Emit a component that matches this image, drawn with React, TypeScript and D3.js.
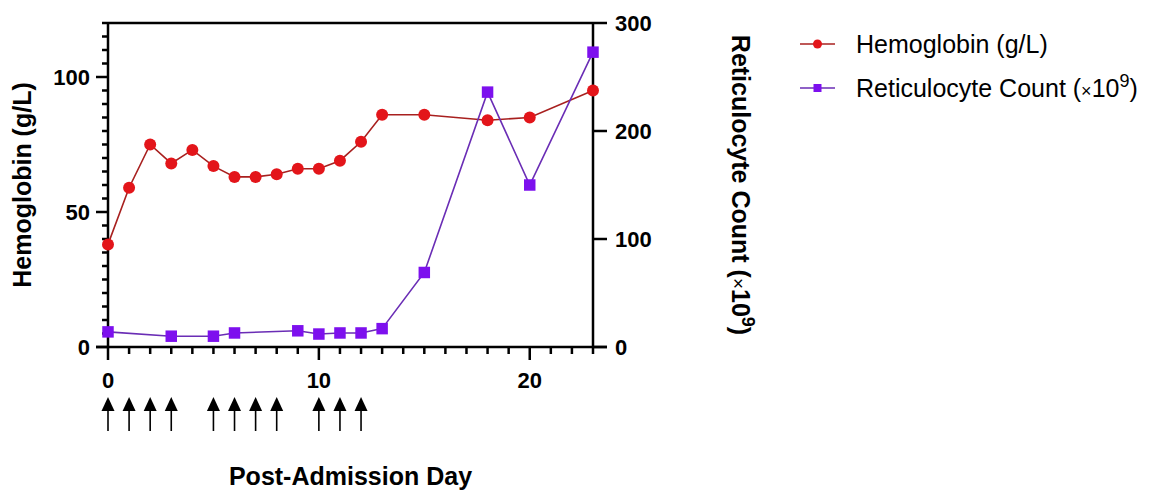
import React from 'react';
import * as d3 from 'd3';

// hemoglobin (g/L), left axis
const hbDays = [0, 1, 2, 3, 4, 5, 6, 7, 8, 9, 10, 11, 12, 13, 15, 18, 20, 23];
const hbValues = [38, 59, 75, 68, 73, 67, 63, 63, 64, 66, 66, 69, 76, 86, 86, 84, 85, 95];

// reticulocyte count (x10^9), right axis
const retDays = [0, 3, 5, 6, 9, 10, 11, 12, 13, 15, 18, 20, 23];
const retValues = [14, 10, 10, 13, 15, 12, 13, 13, 17, 69, 236, 150, 273];

// treatment days marked with arrows under the x axis
const arrowDays = [0, 1, 2, 3, 5, 6, 7, 8, 10, 11, 12];

const xTickLabels = [0, 10, 20];
const leftTickLabels = [0, 50, 100];
const rightTickLabels = [0, 100, 200, 300];

const FONT = "Arial, 'Liberation Sans', Helvetica, sans-serif";
const RED = '#e3151a';
const RED_LINE = '#a8201f';
const PURPLE = '#7d10ee';
const PURPLE_LINE = '#6a2db5';

const App = () => {
    const width = 1156, height = 492;
    const left = 108, right = 593, top = 23, bottom = 347;

    const x = d3.scaleLinear().domain([0, 23]).range([left, right]);
    const yL = d3.scaleLinear().domain([0, 120]).range([bottom, top]);
    const yR = d3.scaleLinear().domain([0, 300]).range([bottom, top]);

    const hbData = hbDays.map((d, i) => [d, hbValues[i]] as [number, number]);
    const retData = retDays.map((d, i) => [d, retValues[i]] as [number, number]);

    const hbLine = d3.line<[number, number]>().x(d => x(d[0])).y(d => yL(d[1]));
    const retLine = d3.line<[number, number]>().x(d => x(d[0])).y(d => yR(d[1]));
    const square = d3.symbol().type(d3.symbolSquare).size(132);
    const legendSquare = d3.symbol().type(d3.symbolSquare).size(64);

    const xMinor = d3.range(0, 24, 1);
    const yMinor = d3.range(0, 121, 5);

    return (
        <svg width={width} height={height} style={{ position: 'absolute', left: 0, top: 0, background: '#fff' }}
            fontFamily={FONT}>
            {/* frame */}
            <line x1={left} x2={right} y1={top} y2={top} stroke="#000" strokeWidth={2.5} />
            <line x1={left} x2={left} y1={top} y2={bottom} stroke="#000" strokeWidth={2.5} />
            <line x1={right} x2={right} y1={top} y2={bottom} stroke="#000" strokeWidth={2.5} />
            <line x1={left - 12} x2={right + 14} y1={bottom} y2={bottom} stroke="#000" strokeWidth={2.5} />

            {/* left axis ticks */}
            {yMinor.map(v => (
                <line key={'yl' + v} x1={left} x2={left - (v % 50 === 0 ? 12 : 6)} y1={yL(v)} y2={yL(v)}
                    stroke="#000" strokeWidth={2.5} />
            ))}
            {leftTickLabels.map(v => (
                <text key={'yll' + v} x={left - 18} y={yL(v)} dy="0.36em" textAnchor="end"
                    fontSize={22} fontWeight="bold">{v}</text>
            ))}

            {/* right axis ticks */}
            {rightTickLabels.map(v => (
                <g key={'yr' + v}>
                    <line x1={right} x2={right + 14} y1={yR(v)} y2={yR(v)} stroke="#000" strokeWidth={2.5} />
                    <text x={right + 22} y={yR(v)} dy="0.36em" fontSize={22} fontWeight="bold">{v}</text>
                </g>
            ))}

            {/* x axis ticks */}
            {xMinor.map(v => (
                <line key={'x' + v} x1={x(v)} x2={x(v)} y1={bottom} y2={bottom + (v % 10 === 0 ? 13 : 7)}
                    stroke="#000" strokeWidth={2.5} />
            ))}
            {xTickLabels.map(v => (
                <text key={'xl' + v} x={x(v)} y={388} textAnchor="middle" fontSize={22} fontWeight="bold">{v}</text>
            ))}

            {/* arrows */}
            {arrowDays.map(d => (
                <g key={'a' + d}>
                    <line x1={x(d)} x2={x(d)} y1={405} y2={431} stroke="#000" strokeWidth={1.6} />
                    <path d={`M${x(d)},397 L${x(d) - 6.5},411 L${x(d) + 6.5},411 Z`} fill="#000" />
                </g>
            ))}

            {/* axis titles */}
            <text transform={`translate(31,${(top + bottom) / 2}) rotate(-90)`} textAnchor="middle"
                fontSize={25} fontWeight="bold">Hemoglobin (g/L)</text>
            <text transform={`translate(732,${(top + bottom) / 2}) rotate(90)`} textAnchor="middle"
                fontSize={25} fontWeight="bold">
                Reticulocyte Count (<tspan fontSize={19} fontWeight="normal">×</tspan>10<tspan dy={-10} fontSize={18}>9</tspan><tspan dy={10}>)</tspan>
            </text>
            <text x={(left + right) / 2} y={485} textAnchor="middle" fontSize={25} fontWeight="bold">Post-Admission Day</text>

            {/* series */}
            <path d={hbLine(hbData) || ''} fill="none" stroke={RED_LINE} strokeWidth={1.6} />
            <path d={retLine(retData) || ''} fill="none" stroke={PURPLE_LINE} strokeWidth={1.6} />
            {hbData.map(d => (
                <circle key={'h' + d[0]} cx={x(d[0])} cy={yL(d[1])} r={6} fill={RED} />
            ))}
            {retData.map(d => (
                <path key={'r' + d[0]} d={square() || ''} transform={`translate(${x(d[0])},${yR(d[1])})`} fill={PURPLE} />
            ))}

            {/* legend */}
            <g transform="translate(800,44)">
                <line x1={0} x2={35} y1={0} y2={0} stroke={RED_LINE} strokeWidth={1.6} />
                <circle cx={17.5} cy={0} r={4.5} fill={RED} />
                <text x={56} y={0} dy="0.36em" fontSize={25}>Hemoglobin (g/L)</text>
            </g>
            <g transform="translate(800,88)">
                <line x1={0} x2={35} y1={0} y2={0} stroke={PURPLE_LINE} strokeWidth={1.6} />
                <path d={legendSquare() || ''} transform="translate(17.5,0)" fill={PURPLE} />
                <text x={56} y={0} dy="0.36em" fontSize={25}>
                    Reticulocyte Count (<tspan fontSize={18}>×</tspan>10<tspan dy={-10} fontSize={18}>9</tspan><tspan dy={10}>)</tspan>
                </text>
            </g>
        </svg>
    );
};

export default App;
